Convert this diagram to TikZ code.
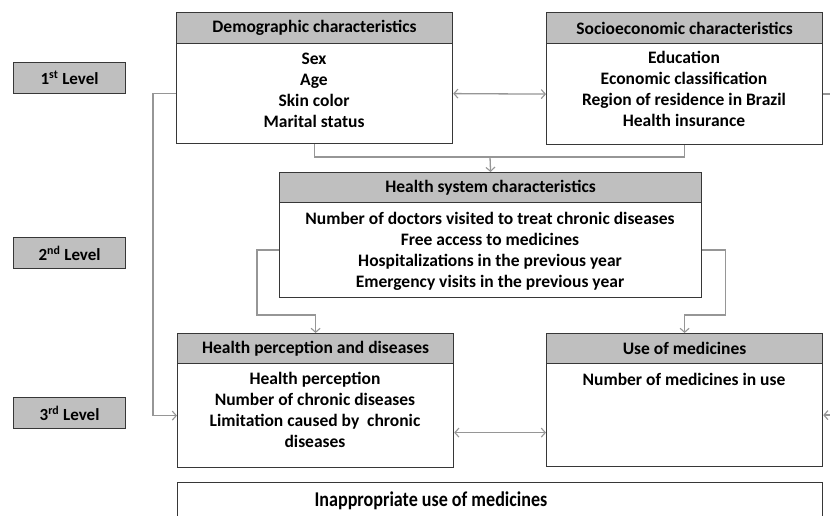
\documentclass[tikz,border=0pt]{standalone}
\usepackage{fontspec}
\setmainfont{Carlito}
\usetikzlibrary{arrows.meta,calc}
\definecolor{hdrgray}{RGB}{191,191,191}
\definecolor{linegray}{RGB}{150,150,150}
\definecolor{boxline}{RGB}{55,55,55}
\tikzset{
  hdr/.style={draw=boxline, line width=1.2pt, fill=hdrgray, anchor=north west, inner sep=0pt,
    font=\fontsize{17.5}{20}\selectfont\bfseries},
  bodybox/.style={draw=boxline, line width=1.2pt, fill=white, anchor=north west, inner sep=0pt},
  bodytxt/.style={anchor=north, align=center, inner sep=0pt, font=\fontsize{17.5}{21}\selectfont\bfseries},
  lvl/.style={draw=boxline, line width=1.2pt, fill=hdrgray, anchor=north west, inner sep=0pt,
    minimum width=112pt, minimum height=31pt, font=\fontsize{17}{19}\selectfont\bfseries},
  conn/.style={draw=linegray, line width=1.3pt},
  tip/.style={-{Straight Barb[length=4pt,width=9pt,line width=1.1pt]}},
  tips/.style={{Straight Barb[length=4pt,width=9pt,line width=1.1pt]}-{Straight Barb[length=4pt,width=9pt,line width=1.1pt]}}
}
\begin{document}
\begin{tikzpicture}[x=1pt,y=-1pt]
\useasboundingbox (0,0) rectangle (830,515);
\fill[white] (0,0) rectangle (830,515);
\clip (0,0) rectangle (830,515);

% level boxes
\node[lvl] (l1) at (13,62) {1\textsuperscript{st} Level};
\node[lvl] (l2) at (13,237) {2\textsuperscript{nd} Level};
\node[lvl] (l3) at (13,397) {3\textsuperscript{rd} Level};

% demographic
\node[bodybox, minimum width=276pt, minimum height=100pt] (demB) at (176,43) {};
\node[hdr, minimum width=276pt, minimum height=31pt] (demH) at (176,12) {Demographic characteristics};
\node[bodytxt] (demT) at (314,53) {Sex\\Age\\Skin color\\Marital status};

% socioeconomic
\node[bodybox, minimum width=276pt, minimum height=101pt] (socB) at (546,43) {};
\node[hdr, minimum width=276pt, minimum height=31pt] (socH) at (546,12) {Socioeconomic characteristics};
\node[bodytxt] (socT) at (684,51.3) {Education\\Economic classification\\Region of residence in Brazil\\Health insurance};

% health system
\node[bodybox, minimum width=422pt, minimum height=95pt] (hsB) at (279,202) {};
\node[hdr, minimum width=422pt, minimum height=30pt] (hsH) at (279,172) {Health system characteristics};
\node[bodytxt] (hsT) at (490,212.3) {Number of doctors visited to treat chronic diseases\\Free access to medicines\\Hospitalizations in the previous year\\Emergency visits in the previous year};

% health perception
\node[bodybox, minimum width=276pt, minimum height=104pt] (hpB) at (177,363) {};
\node[hdr, minimum width=276pt, minimum height=30pt] (hpH) at (177,333) {Health perception and diseases};
\node[bodytxt] (hpT) at (315,372.3) {Health perception\\Number of chronic diseases\\Limitation caused by\ \ chronic\\diseases};

% use of medicines
\node[bodybox, minimum width=276pt, minimum height=103pt] (umB) at (546,363) {};
\node[hdr, minimum width=276pt, minimum height=30pt] (umH) at (546,333) {Use of medicines};
\node[bodytxt] (umT) at (684,373) {Number of medicines in use};

% bottom
\node[bodybox, minimum width=645pt, minimum height=60pt] (outB) at (177,482) {};
\node[anchor=center, inner sep=0pt, font=\fontsize{21}{23}\selectfont\bfseries] (outT) at (431,501) {\scalebox{0.86}[1]{Inappropriate use of medicines}};

% connectors
\coordinate (jn) at (490,157);
\draw[conn] (demB.south) |- (jn) -| (socB.south);
\draw[conn,tip] (jn) -- (hsH.north);
\draw[conn,tips] (demB.east) -- (socB.west);
\draw[conn,tip] (demB.west) -- ++(-23,0) |- (hpB.west);
\draw[conn,tip] (hsB.west) -- ++(-22,0) |- ($(hpH.north)+(0,-18)$) -- (hpH.north);
\draw[conn,tip] (hsB.east) -- ++(23,0) |- ($(umH.north)+(0,-18)$) -- (umH.north);
\coordinate (d1) at ($(hpB.east)+(0,17)$);
\draw[conn,tips] (d1) -- (d1 -| umB.west);
\draw[conn,tip] (socB.east) -- ++(14,0) |- (umB.east);
\end{tikzpicture}
\end{document}
